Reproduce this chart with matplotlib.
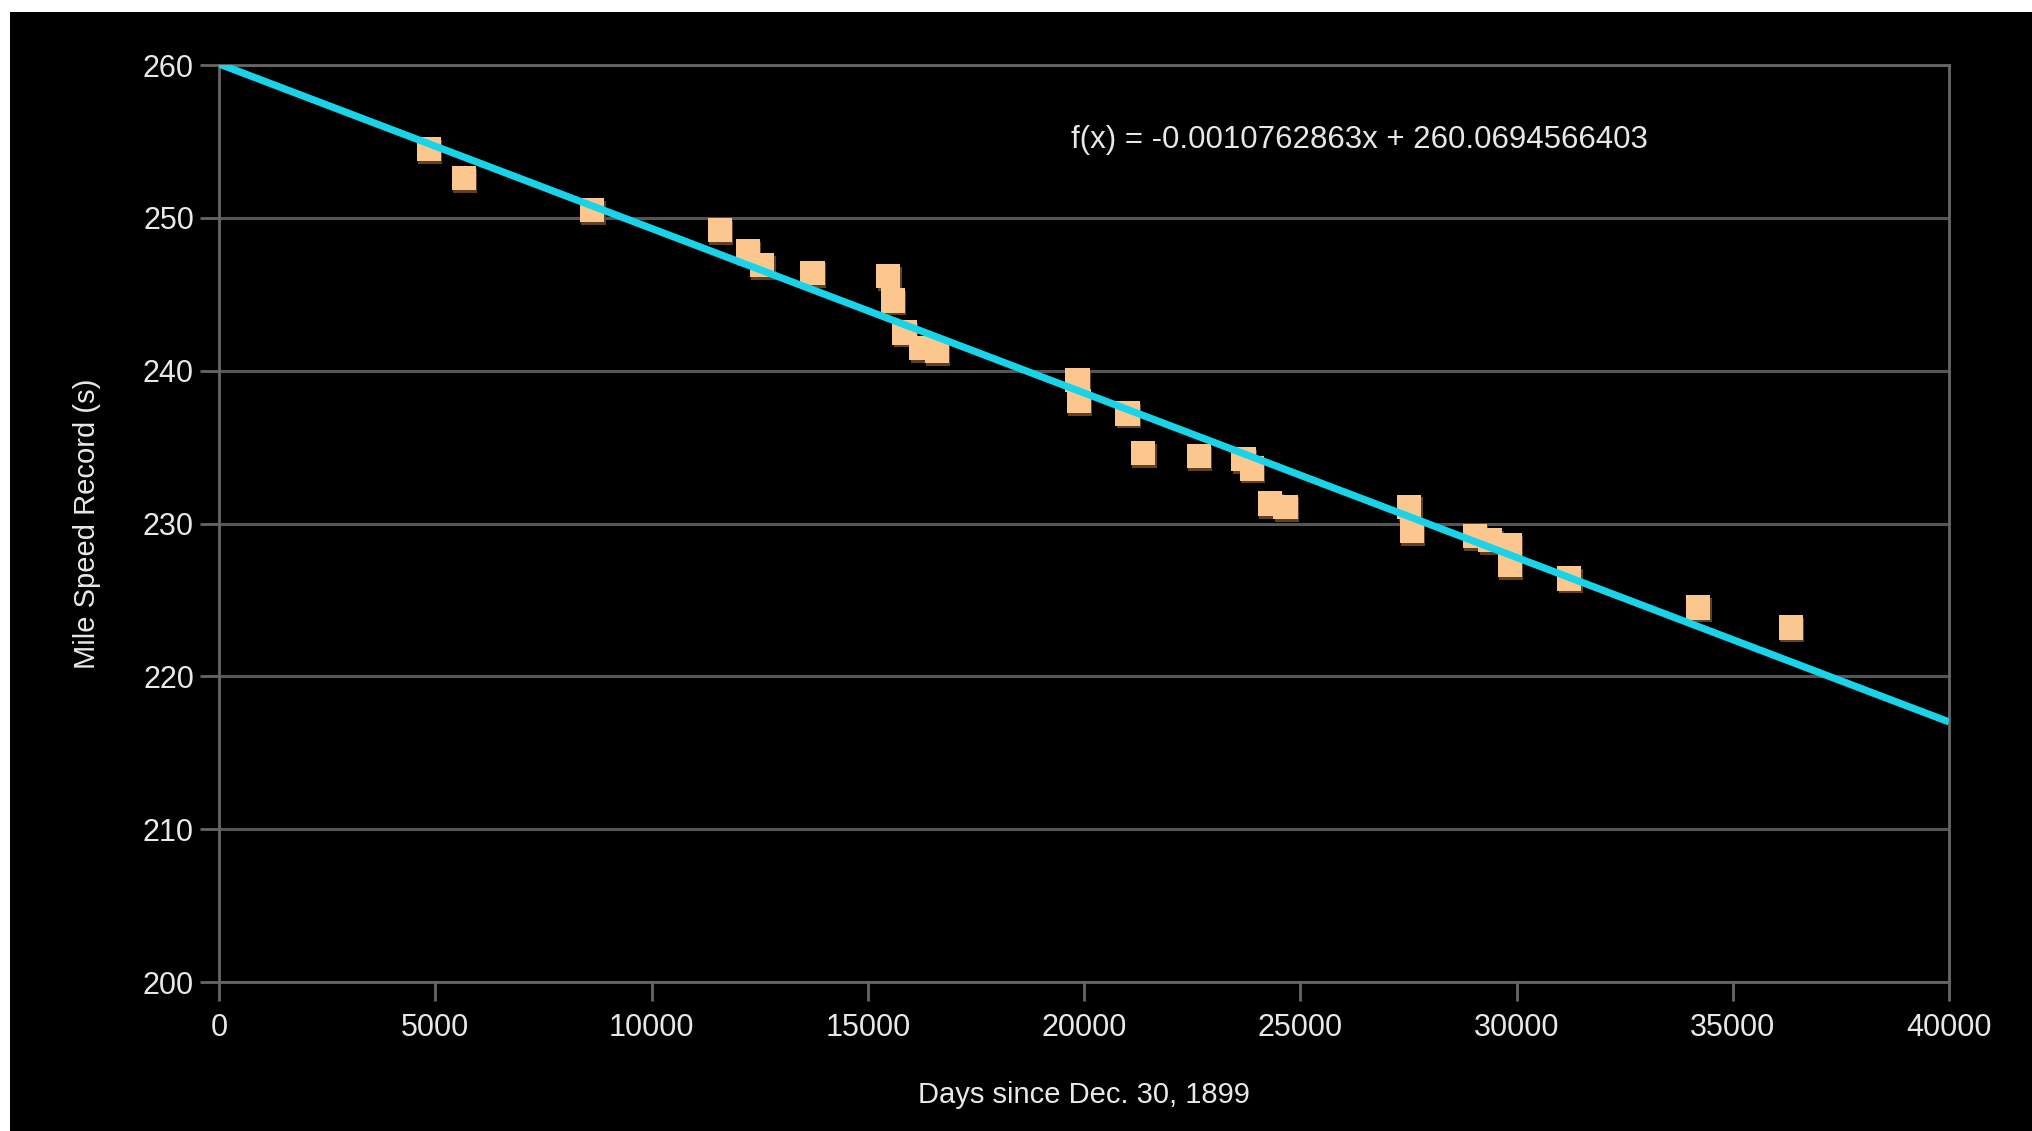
import numpy as np
import matplotlib.pyplot as plt
import matplotlib.patheffects as pe
from matplotlib.patches import Rectangle

# mile speed records (days since Dec. 30, 1899 vs seconds)
days = [4854, 5663, 8629, 11580, 12225, 12555, 13723, 15476, 15581, 15851,
        16240, 16600, 19850, 19880, 21004, 21364, 22652, 23686, 23880, 24300,
        24660, 27521, 27581, 29034, 29394, 29843, 29843, 31221, 34203, 36345]
record = [254.5, 252.6, 250.5, 249.2, 247.8, 246.9, 246.4, 246.2, 244.6, 242.5,
          241.5, 241.3, 239.4, 238.0, 237.2, 234.6, 234.4, 234.2, 233.6, 231.3,
          231.1, 231.1, 229.5, 229.2, 228.9, 228.6, 227.3, 226.4, 224.5, 223.2]

slope = -0.0010762863
intercept = 260.0694566403
xticks = list(range(0, 40001, 5000))
yticks = list(range(200, 261, 10))

plt.rcParams['font.family'] = ['Liberation Sans', 'DejaVu Sans']

fig = plt.figure(figsize=(20.32, 11.31), dpi=100, facecolor='black')
ax = fig.add_axes([219/2032, 1 - 982/1131, 1730/2032, 917/1131])
ax.set_facecolor('black')

# white strips along the top and left edge of the original screenshot
fig.patches.append(Rectangle((0, 1 - 12/1131), 1, 12/1131, transform=fig.transFigure,
                             facecolor='white', edgecolor='none', zorder=-1))
fig.patches.append(Rectangle((0, 0), 10/2032, 1, transform=fig.transFigure,
                             facecolor='white', edgecolor='none', zorder=-1))

ax.plot(days, record, 's', color='#fbc78e', markersize=17.5, markeredgewidth=0,
        path_effects=[pe.SimplePatchShadow(offset=(1, -2), shadow_rgbFace='#6b4a26', alpha=0.9),
                      pe.Normal()], zorder=3)

xs = np.array([0, 40000])
ax.plot(xs, slope * xs + intercept, color='#19d4e8', lw=5.2, solid_capstyle='butt', zorder=4)

ax.text(19700, 255.1, 'f(x) = -0.0010762863x + 260.0694566403', color='#e8e8e8',
        fontsize=22.5, ha='left', va='center')

ax.set_xlim(0, 40000)
ax.set_ylim(200, 260)
ax.set_xticks(xticks)
ax.set_yticks(yticks)
ax.grid(axis='y', color='#555555', lw=2.2)
ax.set_axisbelow(True)
for s in ax.spines.values():
    s.set_color('#666666')
    s.set_linewidth(2)
ax.tick_params(colors='#e8e8e8', labelsize=22, length=14, width=2)
ax.tick_params(axis='x', colors='#666666', labelcolor='#e8e8e8', pad=8)
ax.tick_params(axis='y', colors='#666666', labelcolor='#e8e8e8', pad=4)

ax.set_xlabel('Days since Dec. 30, 1899', color='#e8e8e8', fontsize=21, labelpad=28)
ax.set_ylabel('Mile Speed Record (s)', color='#e8e8e8', fontsize=21, labelpad=30)

fig.savefig('out.png', dpi=100, facecolor='black')
